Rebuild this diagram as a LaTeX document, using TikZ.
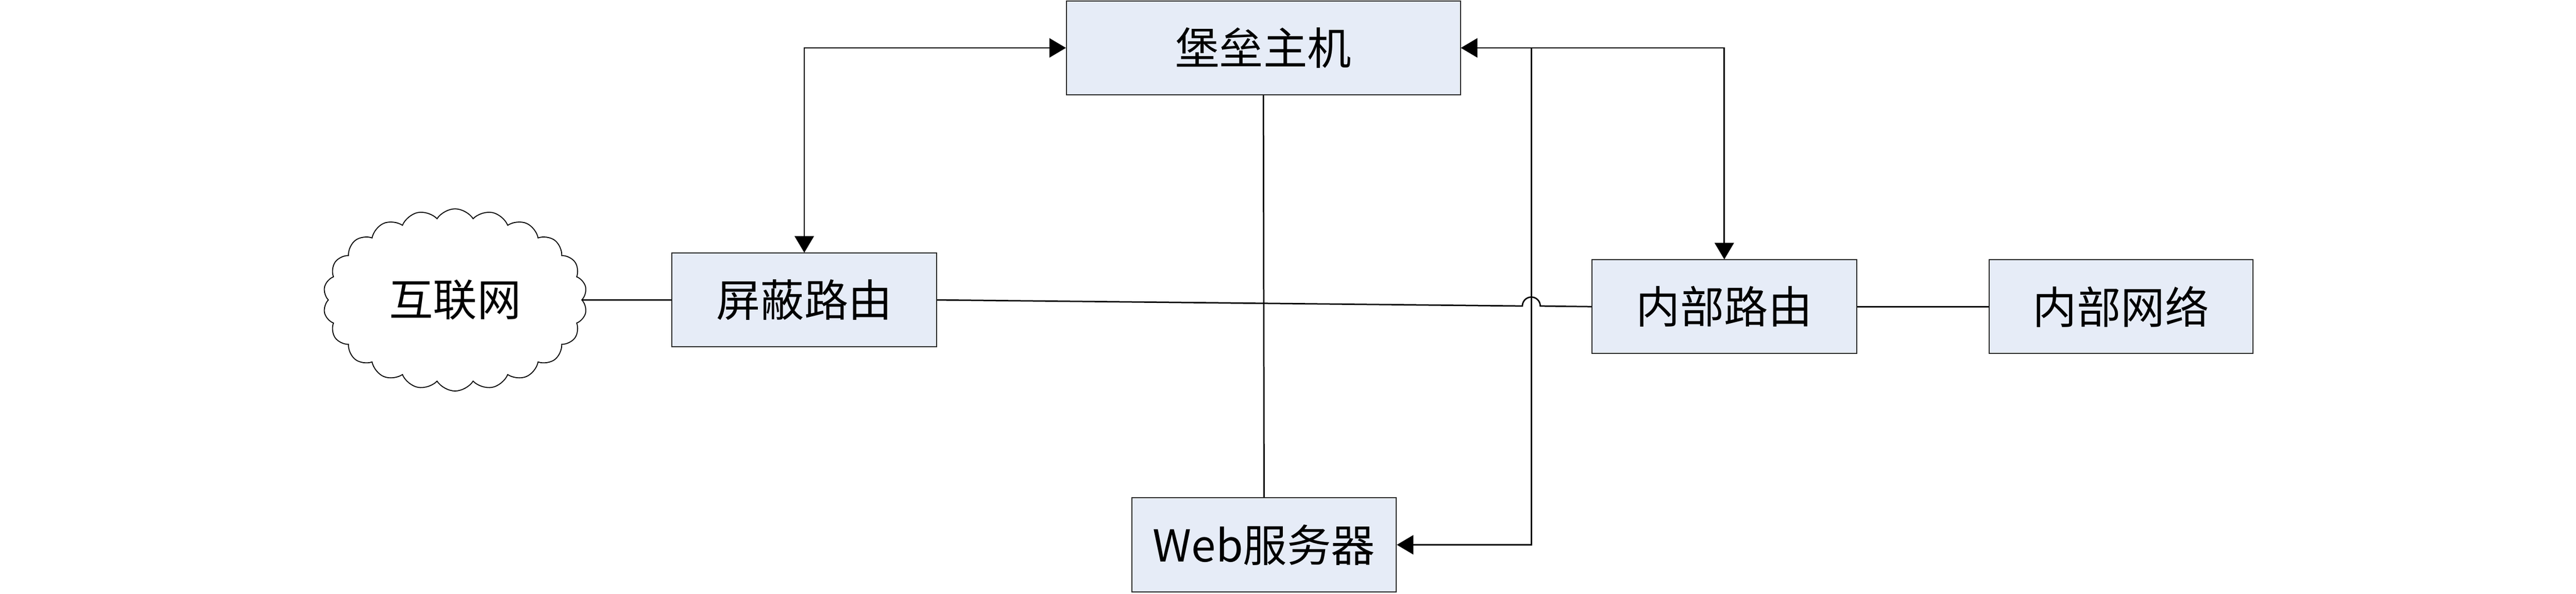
\documentclass[tikz,border=0pt]{standalone}
\usepackage{fontspec}
\setmainfont{Noto Sans CJK SC}
\usepackage{tikz}
\usetikzlibrary{arrows.meta, shapes.symbols, calc}

\definecolor{boxfill}{RGB}{230,236,247}

\begin{document}
\begin{tikzpicture}[
    box/.style={draw=black!85, line width=0.6pt, fill=boxfill, minimum width=5.91cm, minimum height=2.09cm, font=\fontsize{28}{34}\selectfont},
    link/.style={line width=0.9pt},
    tip/.style={line width=0.9pt, >={Triangle[length=0.37cm, width=0.43cm]}}
  ]
  \useasboundingbox (0,0) rectangle (57.54,13.26);

  % Internet cloud
  \node[cloud, draw, line width=0.6pt, cloud puffs=22, cloud puff arc=115, cloud ignores aspect,
        minimum width=5.89cm, minimum height=4.07cm, font=\fontsize{28}{34}\selectfont] (net) at (10.165,6.56) {互联网};

  % Routers and hosts
  \node[box] (screen) at (17.965,6.56) {屏蔽路由};
  \node[box, minimum width=8.80cm, minimum height=2.10cm] (bastion) at (28.22,12.19) {堡垒主机};
  \node[box, minimum height=2.10cm] (web) at (28.235,1.09) {Web服务器};
  \node[box] (inner) at (38.515,6.41) {内部路由};
  \node[box, minimum width=5.89cm] (lan) at (47.375,6.41) {内部网络};

  % Plain links
  \draw[link] (net.east) -- (screen.west);
  \draw[link] (bastion.south) -- (web.north);
  \draw[link] (inner.east) -- (lan.west);

  % Link with a hop over the vertical line
  \coordinate (hop) at ($(screen.east)!0.908!(inner.west)$);
  \draw[link] (screen.east) -- ([xshift=-0.2cm]hop) arc[start angle=180, end angle=0, radius=0.2cm] -- (inner.west);

  % Arrows
  \coordinate (tap) at (34.21,12.19);
  \draw[tip, <->] (screen.north) |- (bastion.west);
  \draw[tip, <->] (bastion.east) -| (inner.north);
  \draw[tip, ->] (tap) |- (web.east);

\end{tikzpicture}
\end{document}
